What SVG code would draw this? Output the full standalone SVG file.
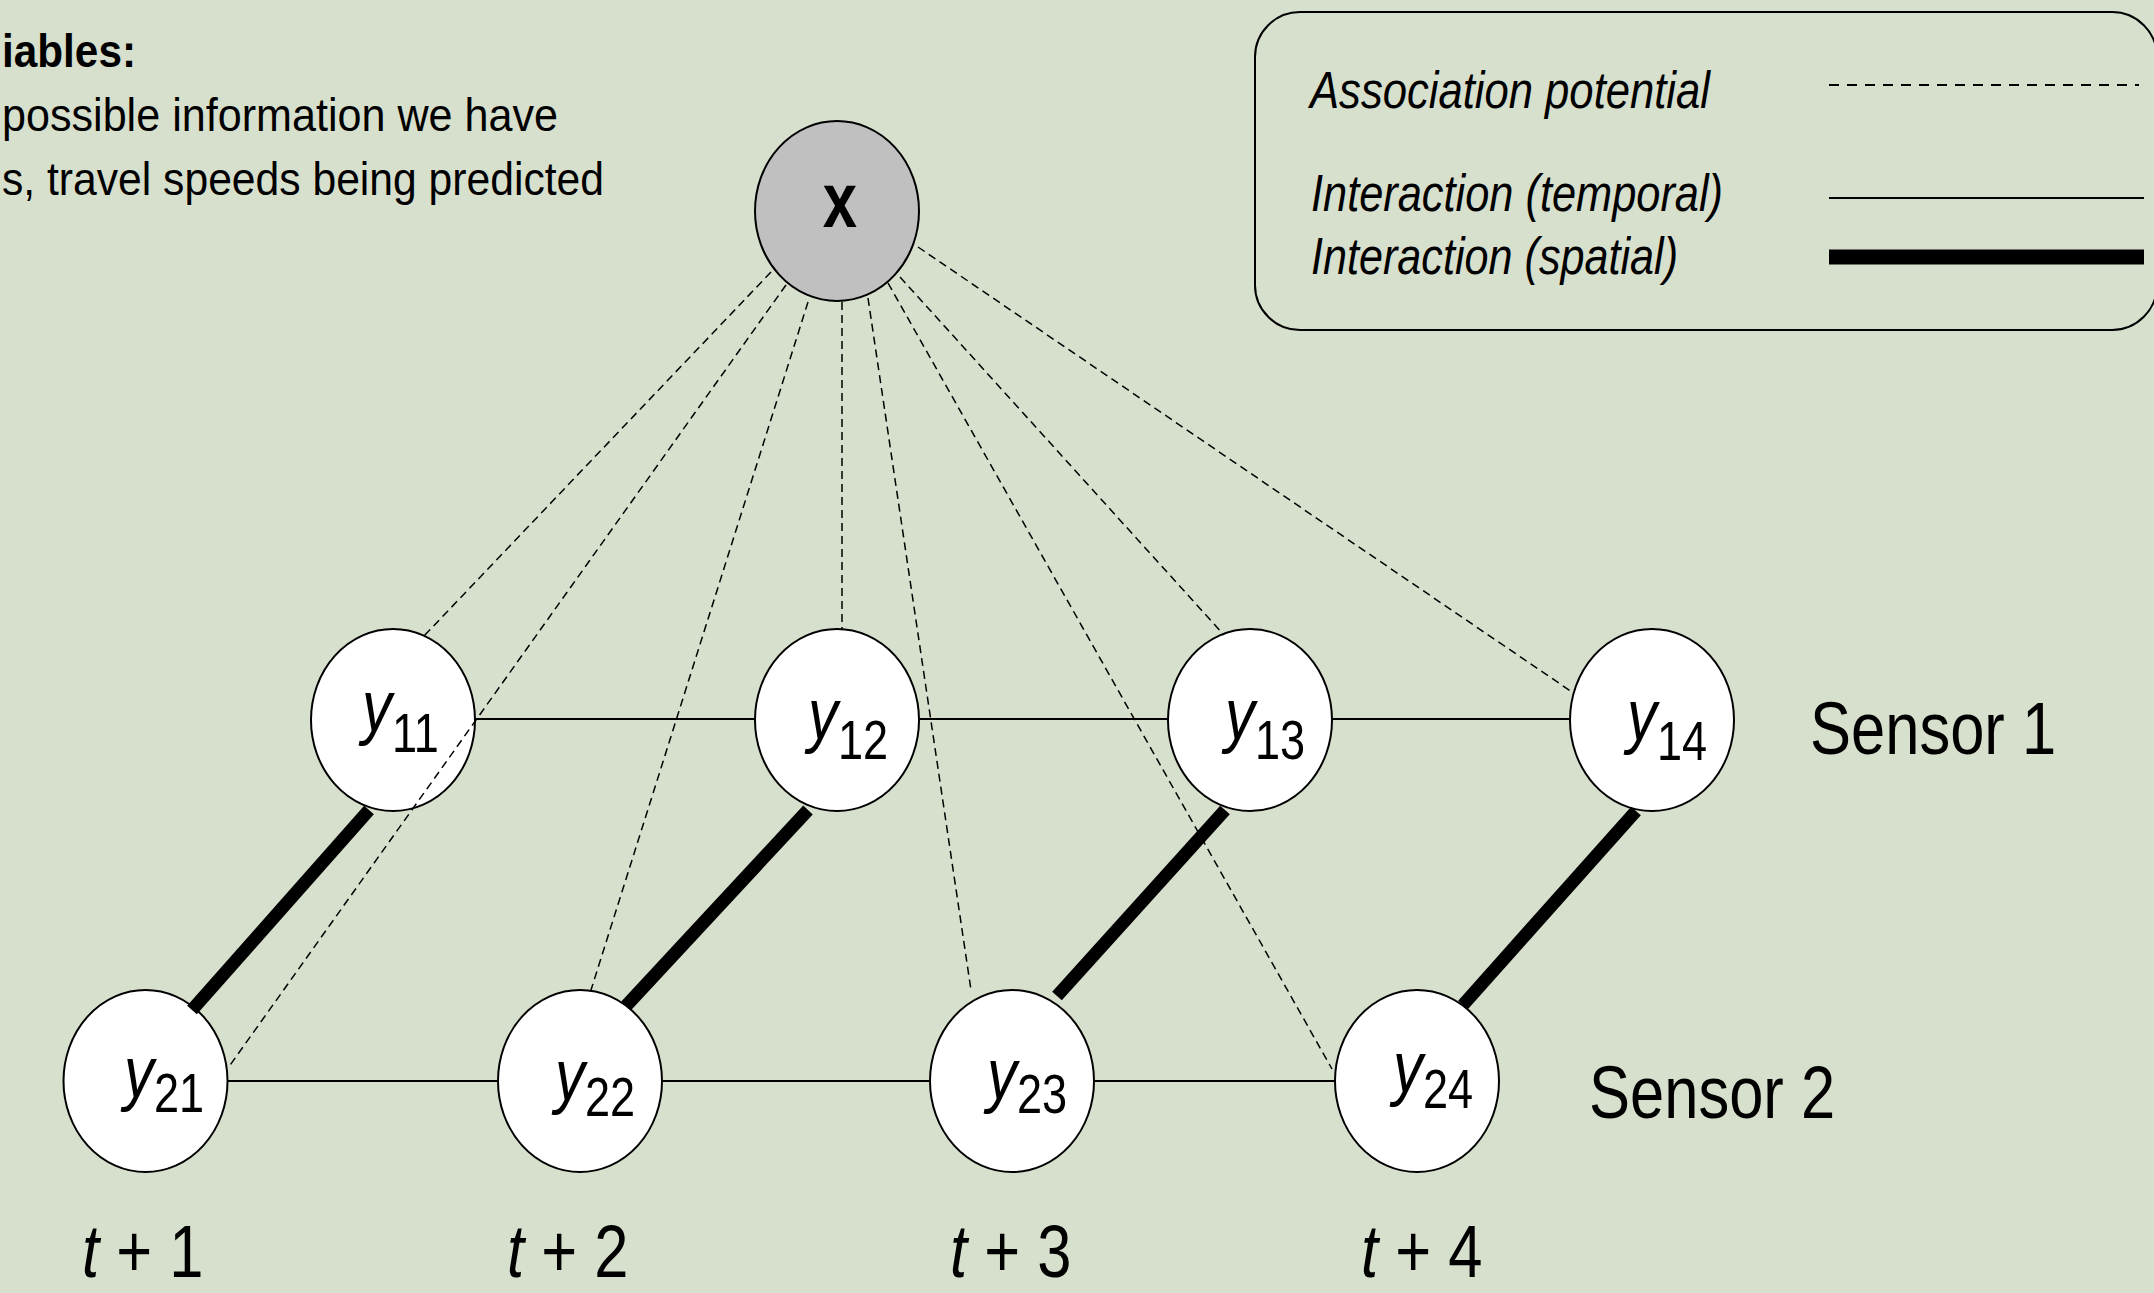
<svg xmlns="http://www.w3.org/2000/svg" width="2154" height="1293" viewBox="0 0 2154 1293">
<style>
.bg{fill:#D7DFCD}
.nd{fill:#FFFFFF;stroke:#000;stroke-width:2}
.ndx{fill:#C0C0C0;stroke:#000;stroke-width:2}
.assoc{stroke:#000;stroke-width:1.5;stroke-dasharray:8 5;fill:none}
.temp{stroke:#000;stroke-width:1.8;fill:none}
.spat{stroke:#000;stroke-width:13;fill:none}
.t{font-family:"Liberation Sans",Arial,sans-serif;fill:#000}
.it{font-style:italic}
.lbl{font-family:"Liberation Sans",Arial,sans-serif;fill:#000}
.yv{font-style:italic;font-size:73px}
.sub{font-size:55px}
</style>
<rect class="bg" x="0" y="0" width="2154" height="1293"/>

<g id="intro-text">
<text class="t" x="2" y="67" font-size="47" font-weight="bold" textLength="134" lengthAdjust="spacingAndGlyphs">iables:</text>
<text class="t" x="2" y="131" font-size="47" textLength="556" lengthAdjust="spacingAndGlyphs">possible information we have</text>
<text class="t" x="2" y="195" font-size="47" textLength="602" lengthAdjust="spacingAndGlyphs">s, travel speeds being predicted</text>
</g>

<g id="legend">
<rect x="1255" y="12" width="902" height="318" rx="45" ry="45" fill="none" stroke="#000" stroke-width="2"/>
<text class="t it" x="1310" y="108" font-size="52" textLength="400" lengthAdjust="spacingAndGlyphs">Association potential</text>
<text class="t it" x="1311" y="211" font-size="52" textLength="412" lengthAdjust="spacingAndGlyphs">Interaction (temporal)</text>
<text class="t it" x="1311" y="274" font-size="52" textLength="367" lengthAdjust="spacingAndGlyphs">Interaction (spatial)</text>
<line x1="1829" y1="85" x2="2139" y2="85" stroke="#000" stroke-width="1.8" stroke-dasharray="10 8"/>
<line x1="1829" y1="198" x2="2144" y2="198" stroke="#000" stroke-width="1.8"/>
<line x1="1829" y1="257" x2="2144" y2="257" stroke="#000" stroke-width="15"/>
</g>

<g id="node-x">
<ellipse class="ndx" cx="837" cy="211" rx="82" ry="90"/>
<text class="t" transform="translate(840,227) scale(0.8,1)" text-anchor="middle" font-size="77" font-weight="bold">x</text>
</g>

<g id="node-y11">
<ellipse class="nd" cx="393" cy="720" rx="82" ry="91"/>
<text class="lbl" transform="translate(362,731) scale(0.82,1)"><tspan class="yv">y</tspan><tspan class="sub" dy="21">11</tspan></text>
</g>
<g id="node-y12">
<ellipse class="nd" cx="837" cy="720" rx="82" ry="91"/>
<text class="lbl" transform="translate(808,739) scale(0.82,1)"><tspan class="yv">y</tspan><tspan class="sub" dy="20">12</tspan></text>
</g>
<g id="node-y13">
<ellipse class="nd" cx="1250" cy="720" rx="82" ry="91"/>
<text class="lbl" transform="translate(1225,739) scale(0.82,1)"><tspan class="yv">y</tspan><tspan class="sub" dy="20">13</tspan></text>
</g>
<g id="node-y14">
<ellipse class="nd" cx="1652" cy="720" rx="82" ry="91"/>
<text class="lbl" transform="translate(1627,740) scale(0.82,1)"><tspan class="yv">y</tspan><tspan class="sub" dy="20">14</tspan></text>
</g>

<g id="node-y21">
<ellipse class="nd" cx="145.5" cy="1081" rx="82" ry="91"/>
<text class="lbl" transform="translate(124,1097) scale(0.82,1)"><tspan class="yv">y</tspan><tspan class="sub" dy="15">21</tspan></text>
</g>
<g id="node-y22">
<ellipse class="nd" cx="580" cy="1081" rx="82" ry="91"/>
<text class="lbl" transform="translate(555,1100) scale(0.82,1)"><tspan class="yv">y</tspan><tspan class="sub" dy="16">22</tspan></text>
</g>
<g id="node-y23">
<ellipse class="nd" cx="1012" cy="1081" rx="82" ry="91"/>
<text class="lbl" transform="translate(987,1099) scale(0.82,1)"><tspan class="yv">y</tspan><tspan class="sub" dy="14">23</tspan></text>
</g>
<g id="node-y24">
<ellipse class="nd" cx="1417" cy="1081" rx="82" ry="91"/>
<text class="lbl" transform="translate(1393,1092) scale(0.82,1)"><tspan class="yv">y</tspan><tspan class="sub" dy="16">24</tspan></text>
</g>

<g id="connectors">
<line class="temp" x1="475" y1="719" x2="755" y2="719"/>
<line class="temp" x1="919" y1="719" x2="1168" y2="719"/>
<line class="temp" x1="1332" y1="719" x2="1570" y2="719"/>
<line class="temp" x1="228" y1="1081" x2="498" y2="1081"/>
<line class="temp" x1="662" y1="1081" x2="930" y2="1081"/>
<line class="temp" x1="1094" y1="1081" x2="1335" y2="1081"/>

<line class="spat" x1="369" y1="810" x2="192" y2="1010"/>
<line class="spat" x1="808" y1="810" x2="626" y2="1006"/>
<line class="spat" x1="1225" y1="810" x2="1057" y2="996"/>
<line class="spat" x1="1636" y1="811" x2="1463" y2="1005"/>

<line class="assoc" x1="771" y1="272" x2="424" y2="636"/>
<line class="assoc" x1="786" y1="285" x2="228" y2="1068"/>
<line class="assoc" x1="808" y1="302" x2="591" y2="990"/>
<line class="assoc" x1="842" y1="302" x2="842" y2="629"/>
<line class="assoc" x1="868" y1="298" x2="971" y2="990"/>
<line class="assoc" x1="888" y1="283" x2="1332" y2="1069"/>
<line class="assoc" x1="900" y1="277" x2="1224" y2="635"/>
<line class="assoc" x1="918" y1="247" x2="1572" y2="692"/>
</g>

<g id="labels">
<text class="t" transform="translate(1810,754) scale(0.82,1)" font-size="75">Sensor 1</text>
<text class="t" transform="translate(1589,1118) scale(0.82,1)" font-size="75">Sensor 2</text>
<text class="t" transform="translate(82,1277) scale(0.82,1)" font-size="75"><tspan font-style="italic">t</tspan> + 1</text>
<text class="t" transform="translate(507,1277) scale(0.82,1)" font-size="75"><tspan font-style="italic">t</tspan> + 2</text>
<text class="t" transform="translate(950,1277) scale(0.82,1)" font-size="75"><tspan font-style="italic">t</tspan> + 3</text>
<text class="t" transform="translate(1361,1277) scale(0.82,1)" font-size="75"><tspan font-style="italic">t</tspan> + 4</text>
</g>
</svg>
